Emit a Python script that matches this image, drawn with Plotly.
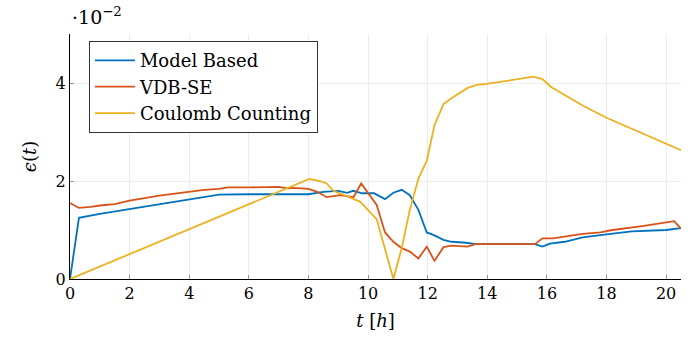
import plotly.graph_objects as go

# Model Based
mb_t = [0, 0.3, 1, 2, 3, 4, 5, 6, 7, 8, 8.5, 9, 9.3, 9.5, 9.8, 10.2, 10.57, 10.85, 11.13, 11.4, 11.69, 11.97, 12.19, 12.53, 12.8, 13.3, 13.6, 15.6, 15.85, 16.1, 16.6, 17.2, 18.0, 18.85, 20.0, 20.5]
mb_v = [0, 1.25, 1.33, 1.43, 1.53, 1.63, 1.72, 1.73, 1.73, 1.73, 1.78, 1.8, 1.76, 1.8, 1.75, 1.75, 1.63, 1.76, 1.82, 1.71, 1.41, 0.95, 0.9, 0.8, 0.76, 0.74, 0.71, 0.71, 0.66, 0.72, 0.76, 0.85, 0.91, 0.97, 1.0, 1.04]

# VDB-SE
vdb_t = [0, 0.3, 0.7, 1, 1.5, 2, 3, 4, 4.5, 5, 5.3, 6, 7, 7.3, 7.5, 8, 8.3, 8.61, 9.06, 9.51, 9.77, 10.29, 10.57, 10.85, 11.13, 11.4, 11.69, 11.97, 12.23, 12.53, 12.8, 13.34, 13.6, 15.6, 15.85, 16.2, 16.8, 17.2, 17.8, 18.2, 19.2, 19.7, 20.27, 20.5]
vdb_v = [1.55, 1.45, 1.47, 1.5, 1.53, 1.6, 1.7, 1.78, 1.82, 1.84, 1.87, 1.87, 1.88, 1.85, 1.86, 1.84, 1.78, 1.67, 1.71, 1.67, 1.95, 1.51, 0.95, 0.76, 0.63, 0.56, 0.42, 0.66, 0.37, 0.65, 0.68, 0.66, 0.71, 0.71, 0.83, 0.83, 0.88, 0.92, 0.95, 1.0, 1.08, 1.12, 1.18, 1.03]

# Coulomb Counting
cc_t = [0, 8.03, 8.39, 8.61, 8.84, 9.73, 10.29, 10.68, 10.85, 11.13, 11.4, 11.69, 11.97, 12.23, 12.53, 12.8, 13.34, 13.65, 13.98, 15.55, 15.85, 16.14, 16.72, 17.23, 18.0, 20.5]
cc_v = [0, 2.04, 2.0, 1.95, 1.8, 1.58, 1.22, 0.39, 0.0, 0.63, 1.41, 2.05, 2.41, 3.14, 3.57, 3.69, 3.9, 3.96, 3.98, 4.13, 4.08, 3.92, 3.72, 3.53, 3.29, 2.63]

x_ticks = [0, 2, 4, 6, 8, 10, 12, 14, 16, 18, 20]
y_ticks = [0, 2, 4]

FONT = "DejaVu Serif"
fig = go.Figure()
fig.add_trace(go.Scatter(x=mb_t, y=mb_v, mode="lines", name="Model Based",
                         line=dict(color="#0072BD", width=1.8)))
fig.add_trace(go.Scatter(x=vdb_t, y=vdb_v, mode="lines", name="VDB-SE",
                         line=dict(color="#D95319", width=1.8)))
fig.add_trace(go.Scatter(x=cc_t, y=cc_v, mode="lines", name="Coulomb Counting",
                         line=dict(color="#EDB120", width=1.8)))

fig.update_layout(
    width=692, height=342,
    margin=dict(l=70, r=11, t=34, b=63),
    paper_bgcolor="white", plot_bgcolor="white",
    font=dict(family=FONT, size=16, color="black"),
    showlegend=True,
    legend=dict(x=0.031, y=0.971, xanchor="left", yanchor="top",
                bgcolor="white", bordercolor="#333333", borderwidth=1,
                font=dict(family=FONT, size=18), tracegroupgap=0,
                itemwidth=40),
    xaxis=dict(range=[0, 20.5], tickvals=x_ticks, ticktext=[str(v) for v in x_ticks],
               showgrid=True, gridcolor="#ececec", gridwidth=1,
               showline=True, linecolor="black", linewidth=1,
               ticks="inside", ticklen=4, tickcolor="#999999",
               zeroline=False, tickfont=dict(size=16),
               title=dict(text="<i>t</i> [<i>h</i>]", font=dict(family=FONT, size=18), standoff=12)),
    yaxis=dict(range=[0, 5], tickvals=y_ticks, ticktext=[str(v) for v in y_ticks],
               showgrid=True, gridcolor="#ececec", gridwidth=1,
               showline=True, linecolor="black", linewidth=1,
               ticks="inside", ticklen=4, tickcolor="#999999",
               zeroline=False, tickfont=dict(size=16),
               title=dict(text="<i>ϵ</i>(<i>t</i>)", font=dict(family=FONT, size=18), standoff=14)),
)
fig.add_annotation(text="·10<sup>−2</sup>", xref="paper", yref="paper", x=0.0, y=1.0,
                   xanchor="left", yanchor="bottom", yshift=4, showarrow=False,
                   font=dict(family=FONT, size=19))

fig.write_html("out.html")
